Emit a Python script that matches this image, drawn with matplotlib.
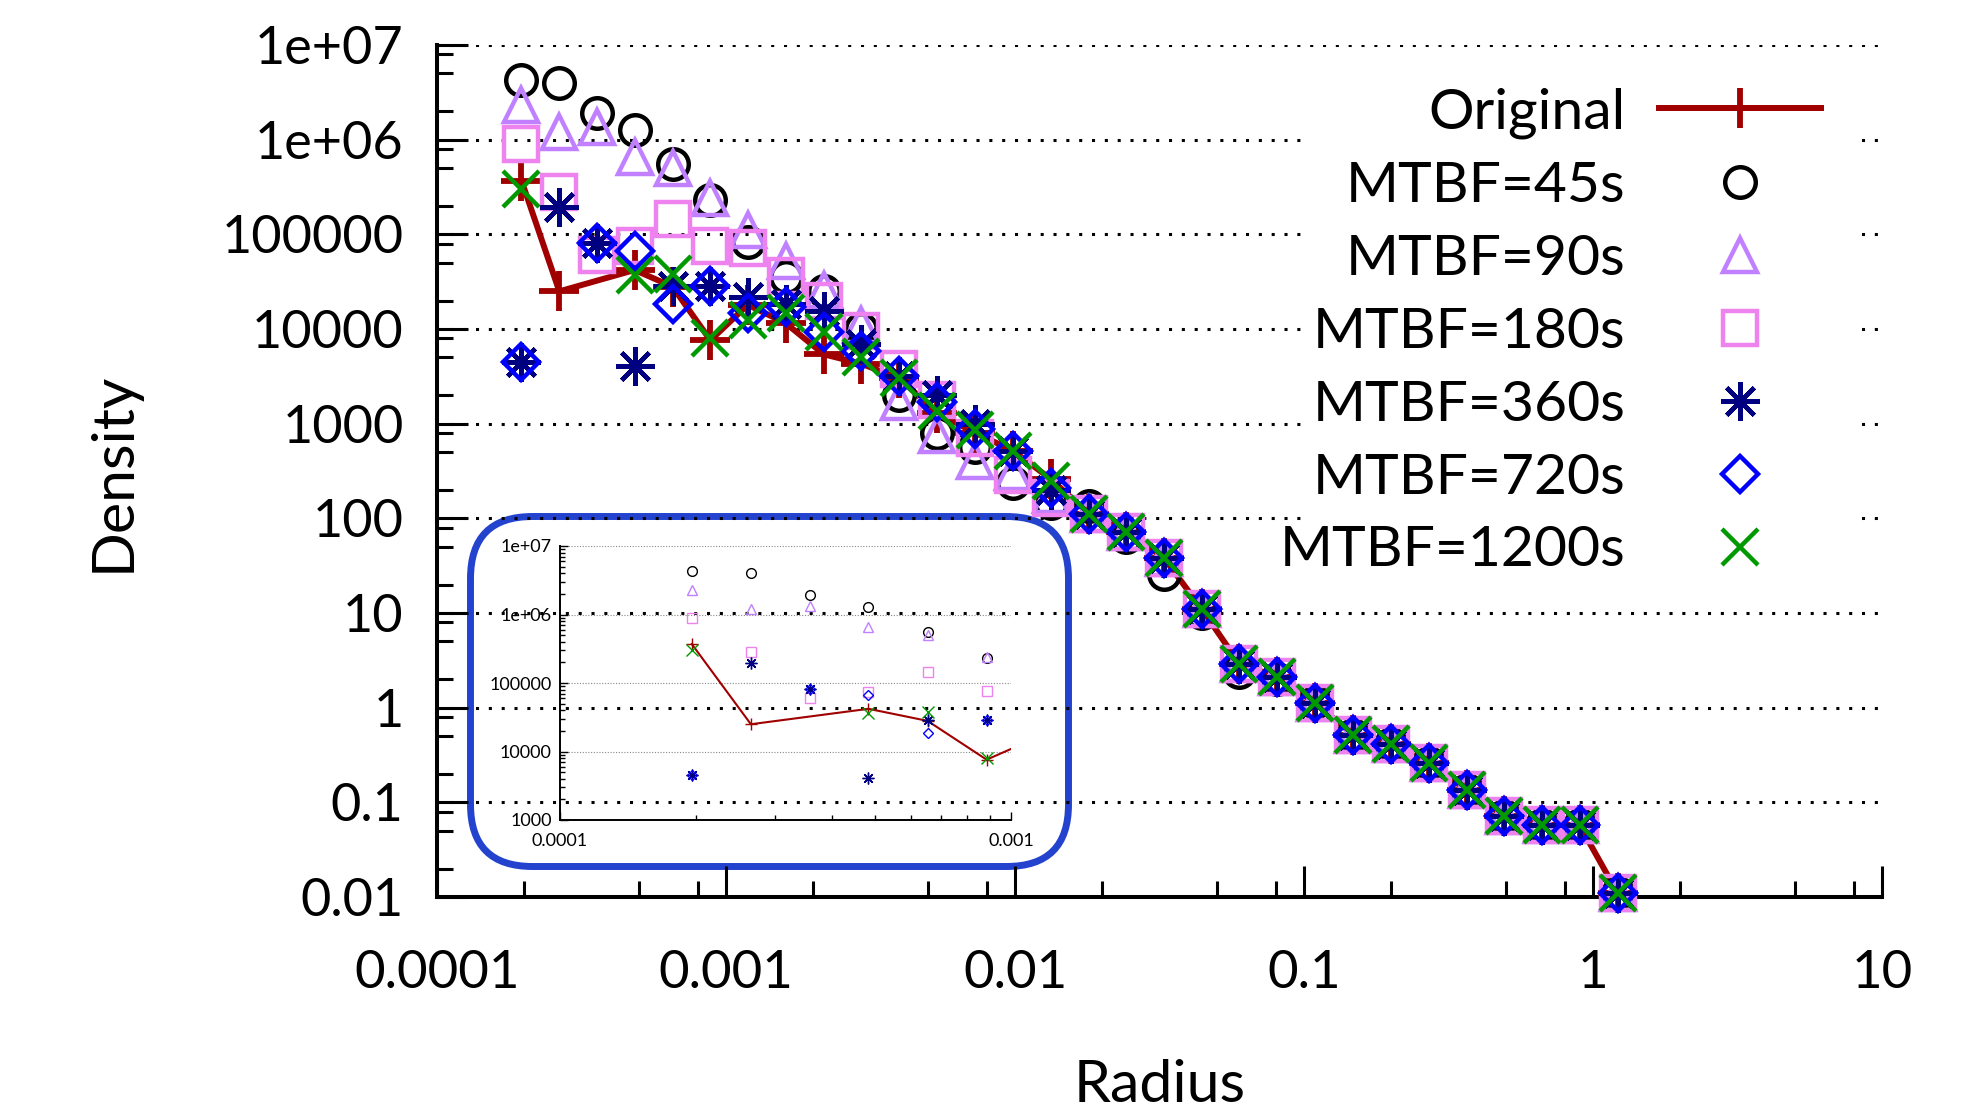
import numpy as np
import matplotlib.pyplot as plt
from matplotlib.ticker import FixedLocator, FixedFormatter, LogLocator, NullFormatter
from matplotlib.patches import FancyBboxPatch, Rectangle

plt.rcParams['font.family'] = ['Lato', 'DejaVu Sans']

# bin centres (Radius)
radius = [1.96e-4, 2.65e-4, 3.58e-4, 4.83e-4, 6.53e-4, 8.83e-4, 1.19e-3, 1.61e-3,
          2.18e-3, 2.94e-3, 3.98e-3, 5.38e-3, 7.27e-3, 9.83e-3, 1.33e-2, 1.80e-2,
          2.43e-2, 3.28e-2, 4.43e-2, 5.98e-2, 8.09e-2, 0.109, 0.148, 0.200,
          0.270, 0.365, 0.493, 0.667, 0.900, 1.217]

original = [3.7e5, 2.5e4, None, 4.2e4, 2.8e4, 7.6e3, 1.8e4, 1.15e4, 5.4e3, 4.3e3,
            3.0e3, 1.3e3, 800, 520, 260, 112, 72, 38, 11, 2.9,
            2.1, 1.12, 0.52, 0.41, 0.26, 0.135, 0.071, 0.057, 0.057, 0.011]
mtbf45 = [4.3e6, 4.0e6, 1.9e6, 1.28e6, 5.6e5, 2.3e5, 8.4e4, 3.5e4, 2.5e4, 1.0e4,
          2.0e3, 800, 570, 235, 145, 135, 63, 26, 10, 2.4,
          2.0, 1.15, 0.52, 0.41, 0.26, 0.135, 0.071, 0.057, 0.057, 0.011]
mtbf90 = [2.3e6, 1.2e6, 1.35e6, 6.6e5, 5.0e5, 2.4e5, 1.1e5, 5.2e4, 2.6e4, 1.1e4,
          1.7e3, 760, 400, 310, 178, 112, 72, 38, 11, 2.9,
          2.1, 1.12, 0.52, 0.41, 0.26, 0.135, 0.071, 0.057, 0.057, 0.011]
mtbf180 = [8.9e5, 2.8e5, 6.0e4, 7.5e4, 1.45e5, 7.6e4, 7.1e4, 3.6e4, 2.0e4, 9.5e3,
           3.8e3, 1.8e3, 700, 290, 165, 112, 72, 38, 11, 2.9,
           2.1, 1.12, 0.52, 0.41, 0.26, 0.135, 0.071, 0.057, 0.057, 0.011]
mtbf360 = [4.5e3, 1.96e5, 8.1e4, 4.1e3, 2.85e4, 2.85e4, 2.2e4, 1.85e4, 1.55e4, 7.0e3,
           3.2e3, 2.0e3, 1.0e3, 520, 200, 112, 72, 38, 11, 2.9,
           2.1, 1.12, 0.52, 0.41, 0.26, 0.135, 0.071, 0.057, 0.057, 0.011]
mtbf720 = [4.5e3, None, 8.1e4, 6.6e4, 1.85e4, 2.85e4, 1.47e4, 1.7e4, 9.2e3, 5.8e3,
           3.2e3, 1.7e3, 870, 520, 210, 112, 72, 38, 11, 2.9,
           2.1, 1.12, 0.52, 0.41, 0.26, 0.135, 0.071, 0.057, 0.057, 0.011]
mtbf1200 = [3.0e5, None, None, 3.7e4, 3.8e4, 8.0e3, 1.25e4, 1.47e4, 9.3e3, 5.1e3,
            3.0e3, 1.35e3, 860, 510, 245, 112, 72, 38, 11, 2.9,
            2.1, 1.12, 0.52, 0.41, 0.26, 0.135, 0.071, 0.057, 0.057, 0.011]

labels = ['Original', 'MTBF=45s', 'MTBF=90s', 'MTBF=180s', 'MTBF=360s', 'MTBF=720s', 'MTBF=1200s']
values = [original, mtbf45, mtbf90, mtbf180, mtbf360, mtbf720, mtbf1200]

# style per series: marker, colour, size in main plot, size in inset
styles = [('+', '#A00000', 29, 9),
          ('o', 'black', 22, 7),
          ('^', '#C080FF', 24, 7.5),
          ('s', '#EE82EE', 25, 7.5),
          ((8, 2, 0), '#000080', 28, 8.5),
          ('D', '#0000FF', 18.5, 5.5),
          ('x', '#009900', 26, 8)]

xticks = [1e-4, 1e-3, 1e-2, 1e-1, 1, 10]
xtick_labels = ['0.0001', '0.001', '0.01', '0.1', '1', '10']
yticks = [1e-2, 1e-1, 1, 10, 100, 1e3, 1e4, 1e5, 1e6, 1e7]
ytick_labels = ['0.01', '0.1', '1', '10', '100', '1000', '10000', '100000', '1e+06', '1e+07']


def pairs(v):
    xs = [r for r, y in zip(radius, v) if y is not None]
    ys = [y for y in v if y is not None]
    return xs, ys


fig = plt.figure(figsize=(19.71, 11.10), dpi=100)

# background layer for the rounded frame around the inset
bg = fig.add_axes([0, 0, 1, 1])
bg.set_xlim(0, 1971)
bg.set_ylim(1110, 0)
bg.axis('off')
bg.add_patch(FancyBboxPatch((470.5, 516.5), 598, 350,
                            boxstyle='round,pad=0,rounding_size=62',
                            fill=False, ec='#2342CD', lw=5))

ax = fig.add_axes([437/1971, 1-897/1110, 1445/1971, 852/1110])
ax.set_facecolor('none')
ax.set_xscale('log')
ax.set_yscale('log')

handles = []
for i, (v, lab) in enumerate(zip(values, labels)):
    m, c, ms, _ = styles[i]
    xs, ys = pairs(v)
    ls = '-' if i == 0 else 'none'
    h, = ax.plot(xs, ys, linestyle=ls, lw=4.3, color=c, marker=m, ms=ms,
                 mew=4.2 if i == 0 else 3.2, mfc='none', mec=c,
                 clip_on=False, zorder=3 + i, label=lab)
    handles.append(h)

ax.set_xlim(1e-4, 10)
ax.set_ylim(0.01, 1e7)
ax.xaxis.set_major_locator(FixedLocator(xticks))
ax.xaxis.set_major_formatter(FixedFormatter(xtick_labels))
ax.yaxis.set_major_locator(FixedLocator(yticks))
ax.yaxis.set_major_formatter(FixedFormatter(ytick_labels))
ax.xaxis.set_minor_locator(LogLocator(base=10, subs=(2, 5, 8), numticks=30))
ax.yaxis.set_minor_locator(LogLocator(base=10, subs=(2, 5, 8), numticks=30))
ax.xaxis.set_minor_formatter(NullFormatter())
ax.yaxis.set_minor_formatter(NullFormatter())
ax.tick_params(which='both', direction='in', width=2.2, top=False, right=False)
ax.tick_params(which='major', length=22)
ax.tick_params(which='minor', length=11.5)
ax.tick_params(axis='x', which='major', pad=38, labelsize=38)
ax.tick_params(axis='y', which='major', pad=24, labelsize=37.5)
for s in ['top', 'right']:
    ax.spines[s].set_visible(False)
for s in ['left', 'bottom']:
    ax.spines[s].set_linewidth(2.9)
ax.yaxis.grid(True, which='major', color='black', linestyle=(0, (1, 3.2)), linewidth=2.2)
ax.set_axisbelow(True)

ax.set_xlabel('Radius', fontsize=42.5)
ax.set_ylabel('Density', fontsize=42.5)
ax.xaxis.label.set_va('center')
ax.yaxis.label.set_va('center')
ax.xaxis.set_label_coords(0.5, (897-1085)/852)
ax.yaxis.set_label_coords((113-437)/1445, (897-472)/852)

# white key area hiding the grid behind the legend
ax.add_patch(Rectangle((1307/1971, 1-582/1110), (1860-1307)/1971, (582-60)/1110,
                       transform=fig.transFigure, fc='white', ec='none',
                       zorder=1, clip_on=False))
leg = ax.legend(handles=handles, loc='upper right',
                bbox_to_anchor=(1832/1971, 1-76/1110), bbox_transform=fig.transFigure,
                markerfirst=False, frameon=False, fontsize=41,
                handlelength=2.83, handletextpad=0.6, labelspacing=0.385,
                borderpad=0.2, borderaxespad=0, numpoints=1)

# inset: zoom on the small radii
axi = fig.add_axes([560/1971, 1-820/1110, 451/1971, 274/1110])
axi.set_facecolor('none')
axi.set_xscale('log')
axi.set_yscale('log')
for i, v in enumerate(values):
    m, c, _, msi = styles[i]
    xs, ys = pairs(v)
    ls = '-' if i == 0 else 'none'
    axi.plot(xs, ys, linestyle=ls, lw=1.5, color=c, marker=m, ms=msi,
             mew=1.0, mfc='none', mec=c, zorder=3 + i)
axi.set_xlim(1e-4, 1e-3)
axi.set_ylim(1e3, 1e7)
axi.xaxis.set_major_locator(FixedLocator([1e-4, 1e-3]))
axi.xaxis.set_major_formatter(FixedFormatter(['0.0001', '0.001']))
axi.yaxis.set_major_locator(FixedLocator([1e3, 1e4, 1e5, 1e6, 1e7]))
axi.yaxis.set_major_formatter(FixedFormatter(['1000', '10000', '100000', '1e+06', '1e+07']))
axi.xaxis.set_minor_locator(LogLocator(base=10, subs=np.arange(2, 10), numticks=20))
axi.yaxis.set_minor_locator(LogLocator(base=10, subs=np.arange(2, 10), numticks=20))
axi.xaxis.set_minor_formatter(NullFormatter())
axi.yaxis.set_minor_formatter(NullFormatter())
axi.tick_params(which='both', direction='in', width=1.0, top=False, right=False, labelsize=13)
axi.tick_params(which='major', length=6)
axi.tick_params(which='minor', length=3.5)
axi.tick_params(axis='x', pad=9)
axi.tick_params(axis='y', pad=6)
for s in ['top', 'right']:
    axi.spines[s].set_visible(False)
for s in ['left', 'bottom']:
    axi.spines[s].set_linewidth(1.4)
axi.yaxis.grid(True, which='major', color='#888888', linestyle=(0, (1, 1.5)), linewidth=0.8)
axi.set_axisbelow(True)

fig.savefig('out.png', dpi=100)
